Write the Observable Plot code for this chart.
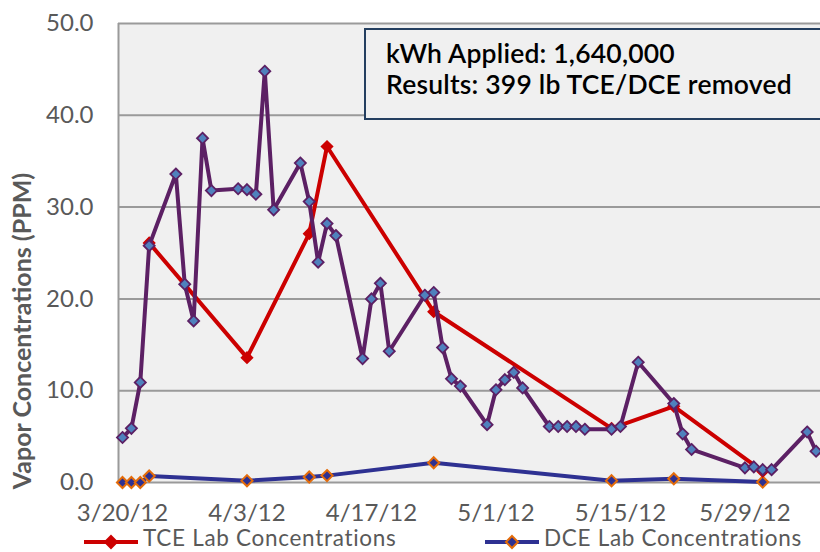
<!DOCTYPE html>
<html>
<head>
<meta charset="utf-8">
<script src="https://cdn.jsdelivr.net/npm/d3@7"></script>
<script src="https://cdn.jsdelivr.net/npm/@observablehq/plot@0.6"></script>
<style>
  html, body { margin: 0; padding: 0; background: #fff; overflow: hidden; }
  #wrap { position: relative; width: 820px; height: 552px; overflow: hidden; font-family: Lato, "Open Sans", sans-serif; }
  #box { position: absolute; left: 364px; top: 28px; width: 520px; height: 80px; border: 2px solid #243f60; background: #f0f0f0;
         font-size: 26.5px; line-height: 31px; color: #000; padding: 8px 0 0 20px; box-sizing: content-box; font-weight: 600; white-space: nowrap; letter-spacing: 0.2px; }
  .legsw { position: absolute; top: 530px; }
  .legtx { position: absolute; top: 530px; height: 16px; font-size: 22.5px; line-height: 16px; color: #595959; white-space: nowrap; letter-spacing: 0.7px; }
</style>
</head>
<body>
<div id="wrap"></div>
<script>
// ---- data ----
const pidDates = ["2012-03-20","2012-03-21","2012-03-22","2012-03-23","2012-03-26","2012-03-27","2012-03-28","2012-03-29","2012-03-30",
  "2012-04-02","2012-04-03","2012-04-04","2012-04-05","2012-04-06","2012-04-09","2012-04-10","2012-04-11","2012-04-12","2012-04-13",
  "2012-04-16","2012-04-17","2012-04-18","2012-04-19","2012-04-23","2012-04-24","2012-04-25","2012-04-26","2012-04-27",
  "2012-04-30","2012-05-01","2012-05-02","2012-05-03","2012-05-04","2012-05-07","2012-05-08","2012-05-09","2012-05-10","2012-05-11",
  "2012-05-14","2012-05-15","2012-05-17","2012-05-21","2012-05-22","2012-05-23","2012-05-29","2012-05-30","2012-05-31","2012-06-01",
  "2012-06-05","2012-06-06"];
const pidValues = [4.9,5.9,10.9,25.8,33.6,21.6,17.6,37.5,31.8,
  32.0,31.9,31.4,44.8,29.7,34.8,30.6,24.0,28.2,26.9,
  13.5,20.0,21.7,14.3,20.4,20.7,14.7,11.3,10.5,
  6.3,10.1,11.2,12.0,10.3,6.1,6.1,6.1,6.1,5.8,
  5.8,6.1,13.1,8.6,5.3,3.6,1.6,1.7,1.4,1.4,
  5.5,3.4];

const tceDates = ["2012-03-23","2012-04-03","2012-04-10","2012-04-12","2012-04-24","2012-05-14","2012-05-21","2012-05-31"];
const tceValues = [26.1,13.6,27.1,36.6,18.6,5.9,8.3,1.2];

const dceDates = ["2012-03-20","2012-03-21","2012-03-22","2012-03-23","2012-04-03","2012-04-10","2012-04-12","2012-04-24","2012-05-14","2012-05-21","2012-05-31"];
const dceValues = [0.0,0.0,0.0,0.7,0.2,0.6,0.75,2.15,0.2,0.4,0.05];

const xTickDates = ["2012-03-20","2012-04-03","2012-04-17","2012-05-01","2012-05-15","2012-05-29"];
const yTicks = [0,10,20,30,40,50];

const seriesNames = ["TCE Lab Concentrations","DCE Lab Concentrations"];
const boxLines = ["kWh Applied: 1,640,000","Results: 399 lb TCE/DCE removed"];
const yTitle = "Vapor Concentrations (PPM)";

// ---- build ----
const parse = d3.utcParse("%Y-%m-%d");
const toRows = (ds, vs) => ds.map((d, i) => ({date: parse(d), value: vs[i]}));
const pid = toRows(pidDates, pidValues);
const tce = toRows(tceDates, tceValues);
const dce = toRows(dceDates, dceValues);
const DAY = 864e5;
const x0 = parse("2012-03-20");
const xDomain = [new Date(+x0 - 0.45 * DAY), new Date(+x0 + 78.5 * DAY)];

const PURPLE = "#5c2064", BLUEFILL = "#4f81bd", RED = "#cc0000", NAVY = "#2e3192", ORANGE = "#e46c0a";
const R = 5;

const chart = Plot.plot({
  width: 820, height: 532,
  marginLeft: 118, marginRight: 0, marginTop: 23, marginBottom: 50,
  style: {fontFamily: "Lato, 'Open Sans', sans-serif", fontSize: "24px", color: "#595959", background: "transparent", overflow: "visible"},
  x: {type: "utc", domain: xDomain, ticks: xTickDates.map(parse), tickFormat: d3.utcFormat("%-m/%-d/%y"), tickSize: 0, tickPadding: 21, label: null},
  y: {domain: [0, 50], ticks: yTicks, tickFormat: d3.format(".1f"), tickSize: 0, tickPadding: 25, label: null},
  marks: [
    Plot.frame({fill: "#f0f0f0", stroke: null}),
    Plot.ruleY(yTicks, {stroke: "#9a9a9a", strokeWidth: 2}),
    Plot.ruleX([xDomain[0]], {stroke: "#9a9a9a", strokeWidth: 2}),
    Plot.line(dce, {x: "date", y: "value", stroke: NAVY, strokeWidth: 4}),
    Plot.dot(dce, {x: "date", y: "value", symbol: "diamond2", r: R, fill: NAVY, stroke: ORANGE, strokeWidth: 2}),
    Plot.line(tce, {x: "date", y: "value", stroke: RED, strokeWidth: 4}),
    Plot.dot(tce, {x: "date", y: "value", symbol: "diamond2", r: R, fill: RED, stroke: RED, strokeWidth: 1.5}),
    Plot.line(pid, {x: "date", y: "value", stroke: PURPLE, strokeWidth: 4}),
    Plot.dot(pid, {x: "date", y: "value", symbol: "diamond2", r: R, fill: BLUEFILL, stroke: PURPLE, strokeWidth: 1.8})
  ]
});

const wrap = document.getElementById("wrap");
wrap.appendChild(chart);

// y-axis title
d3.select(chart).append("text")
  .attr("transform", "translate(31,331) rotate(-90)")
  .attr("text-anchor", "middle")
  .attr("fill", "#595959")
  .attr("font-weight", "bold")
  .attr("font-size", "25px")
  .text(yTitle);

// annotation box
const box = document.createElement("div");
box.id = "box";
box.innerHTML = boxLines.map(s => `<div>${s}</div>`).join("");
wrap.appendChild(box);

// legend
const legendItems = [
  {name: seriesNames[0], left: 84, line: RED, fill: RED, stroke: RED},
  {name: seriesNames[1], left: 485, line: NAVY, fill: NAVY, stroke: ORANGE}
];
for (const it of legendItems) {
  const sw = document.createElement("div");
  sw.className = "legsw";
  sw.style.left = it.left + "px";
  sw.innerHTML = `<svg width="56" height="22">
      <line x1="0" x2="54" y1="12" y2="12" stroke="${it.line}" stroke-width="4"/>
      <path d="M27,6L33,12L27,18L21,12Z" fill="${it.fill}" stroke="${it.stroke}" stroke-width="2"/>
    </svg>`;
  wrap.appendChild(sw);
  const tx = document.createElement("div");
  tx.className = "legtx";
  tx.style.left = (it.left + 59) + "px";
  tx.textContent = it.name;
  wrap.appendChild(tx);
}
</script>
</body>
</html>
